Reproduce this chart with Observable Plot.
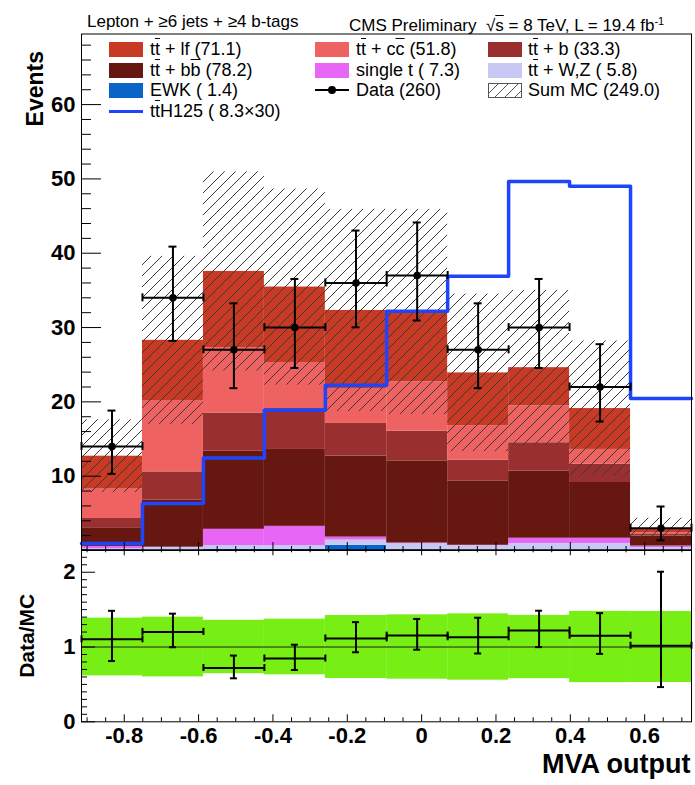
<!DOCTYPE html>
<html>
<head>
<meta charset="utf-8">
<title>MVA output, lepton + ≥6 jets + ≥4 b-tags</title>
<script src="https://cdn.jsdelivr.net/npm/d3@7"></script>
<script src="https://cdn.jsdelivr.net/npm/@observablehq/plot@0.6"></script>
<style>
  html, body { margin: 0; background: #fff; }
  #figure { position: relative; width: 695px; height: 785px; overflow: hidden;
            font-family: "Liberation Sans", Arial, Helvetica, sans-serif; color: #000; }
  #figure svg { position: absolute; left: 0; }
  .hdr { position: absolute; font-size: 17px; line-height: 17px; white-space: pre; }
  .ob { text-decoration: overline; text-decoration-thickness: 1px; }
  .leg { position: absolute; height: 20px; line-height: 20px; font-size: 18px; white-space: pre; }
  .sw { position: absolute; width: 34px; height: 15px; }
  .sw.hatch { box-sizing: border-box; border: 1px solid #555;
              background: repeating-linear-gradient(135deg, transparent 0 6px, #555 6px 7px); }
  .sw.line { height: 0; border-top: 3px solid #1f45fc; }
  .sw.data { height: 0; border-top: 2px solid #000; }
  .sw.data::after { content: ""; position: absolute; left: 13px; top: -5px; width: 8px; height: 8px;
                    border-radius: 50%; background: #000; }
</style>
</head>
<body>
<div id="figure"></div>
<script>
// ---- histogram binning (MVA output) ----
const binEdges = [-0.915, -0.751, -0.587, -0.423, -0.259, -0.094, 0.070, 0.234, 0.398, 0.562, 0.726];

// ---- simulated processes, stacked bottom to top ----
const processes = ["EWK", "ttV", "singleTop", "ttbb", "ttb", "ttcc", "ttlf"];
const processColors = ["#0a64c8", "#c8c8f5", "#e866f5", "#661810", "#99302f", "#ee6262", "#c93a25"];

const ewk       = [0.10, 0.05, 0.15, 0.15, 0.70, 0.10, 0.05, 0.05, 0.05, 0.00];
const ttV       = [0.15, 0.35, 0.50, 0.50, 0.70, 0.80, 0.60, 0.90, 0.90, 0.40];
const singleTop = [0.30, 0.05, 2.20, 2.60, 0.40, 0.10, 0.05, 0.70, 0.70, 0.20];
const ttbb      = [2.51, 6.32, 10.51, 10.35, 10.90, 11.06, 8.67, 9.05, 7.50, 1.35];
const ttb       = [1.25, 3.81, 5.14, 5.50, 4.40, 4.00, 2.78, 3.80, 2.45, 0.20];
const ttcc      = [4.03, 9.60, 8.80, 6.20, 4.70, 6.64, 4.65, 4.95, 2.00, 0.20];
const ttlf      = [4.35, 8.10, 10.25, 10.15, 10.50, 9.40, 7.10, 5.15, 5.50, 0.60];

// total MC uncertainty per bin (absolute, events)
const mcErr = [4.9, 11.3, 13.4, 13.2, 13.6, 13.8, 10.6, 10.4, 9.1, 1.4];

// ttH (mH = 125 GeV) signal, scaled by 30
const tthScaled = [0.95, 6.33, 12.46, 18.87, 22.23, 32.18, 36.90, 49.65, 49.00, 20.44];

// observed data with asymmetric (Poisson) intervals
const dataCounts = [14, 34, 27, 30, 36, 37, 27, 30, 22, 3];
const dataLow    = [10.31, 28.20, 21.84, 24.56, 30.03, 30.95, 21.84, 24.56, 17.35, 1.37];
const dataHigh   = [18.83, 40.89, 33.26, 36.54, 43.05, 44.14, 33.26, 36.54, 27.76, 5.92];

// axis tick labels
const xTickLabels = [-0.8, -0.6, -0.4, -0.2, 0, 0.2, 0.4, 0.6];
const yTickLabels = [10, 20, 30, 40, 50, 60];
const ratioTickLabels = [0, 1, 2];
const unityRatio = 1;

// legend text
const legendLabels = {
  ttlf: 't<span class="ob">t</span> + lf (71.1)',
  ttcc: 't<span class="ob">t</span> + c<span class="ob">c</span> (51.8)',
  ttb: 't<span class="ob">t</span> + b (33.3)',
  ttbb: 't<span class="ob">t</span> + b<span class="ob">b</span> (78.2)',
  singleTop: 'single t ( 7.3)',
  ttV: 't<span class="ob">t</span> + W,Z ( 5.8)',
  EWK: 'EWK ( 1.4)',
  data: 'Data (260)',
  sumMC: 'Sum MC (249.0)',
  ttH: 't<span class="ob">t</span>H125 ( 8.3×30)'
};
const legendRows = [["ttlf", "ttcc", "ttb"], ["ttbb", "singleTop", "ttV"], ["EWK", "data", "sumMC"], ["ttH"]];

// ---------------------------------------------------------------
const FONT = '"Liberation Sans", Arial, Helvetica, sans-serif';
const W = 695;
const frameLeft = 81, frameRight = 691;
const mainTop = 33.5, mainBottom = 550, mainHeight = 560;
const ratioSvgTop = 540, ratioHeight = 245, ratioTop = 9.3, ratioBottom = 181.3;
const xDomain = [binEdges[0], binEdges[binEdges.length - 1]];
const plotW = frameRight - frameLeft;
const mainPlotH = mainBottom - mainTop;
const ratioPlotH = ratioBottom - ratioTop;

const series = {EWK: ewk, ttV, singleTop, ttbb, ttb, ttcc, ttlf};
const nBins = dataCounts.length;
const totals = d3.range(nBins).map(i => d3.sum(processes, p => series[p][i]));

const stackRows = processes.flatMap(p => series[p].map((v, i) => ({
  proc: p, x1: binEdges[i], x2: binEdges[i + 1], v
})));

const bins = d3.range(nBins).map(i => ({
  x1: binEdges[i], x2: binEdges[i + 1], xc: (binEdges[i] + binEdges[i + 1]) / 2,
  n: dataCounts[i], lo: dataLow[i], hi: dataHigh[i], mc: totals[i], err: mcErr[i]
}));

const tthSteps = binEdges.map((e, i) => ({x: e, y: tthScaled[Math.min(i, nBins - 1)]}));

const round = v => Math.round(v * 1000) / 1000;
const xMinor = d3.range(-0.9, 0.72, 0.05).map(round).filter(v => !xTickLabels.includes(v));
const yMinor = d3.range(2, 69, 2).filter(v => v % 10 !== 0);
const ratioMinor = d3.range(0.1, 2.31, 0.1).map(round).filter(v => !ratioTickLabels.includes(v));

// error-bar crosses shared by both panels
function crosses(rows, {y, lo, hi, cap = 4}) {
  return [
    Plot.ruleY(rows, {y, x1: "x1", x2: "x2", stroke: "#000", strokeWidth: 2}),
    Plot.ruleX(rows, {x: "x1", y1: y, y2: y, insetTop: -cap, insetBottom: -cap, strokeWidth: 2}),
    Plot.ruleX(rows, {x: "x2", y1: y, y2: y, insetTop: -cap, insetBottom: -cap, strokeWidth: 2}),
    Plot.ruleX(rows, {x: "xc", y1: lo, y2: hi, stroke: "#000", strokeWidth: 2}),
    Plot.ruleY(rows, {y: hi, x1: "xc", x2: "xc", insetLeft: -cap, insetRight: -cap, strokeWidth: 2}),
    Plot.ruleY(rows, {y: lo, x1: "xc", x2: "xc", insetLeft: -cap, insetRight: -cap, strokeWidth: 2})
  ];
}

// ---------------- upper panel: event yields ----------------
const main = Plot.plot({
  width: W, height: mainHeight,
  marginLeft: frameLeft, marginRight: W - frameRight, marginTop: mainTop, marginBottom: mainHeight - mainBottom,
  x: {domain: xDomain, axis: null},
  y: {domain: [0, 69.5], axis: null},
  color: {domain: processes, range: processColors},
  style: {background: "transparent", overflow: "visible", fontFamily: FONT},
  marks: [
    Plot.rectY(stackRows, {x1: "x1", x2: "x2", y: "v", fill: "proc", z: "proc", order: processes}),
    Plot.rect(bins, {x1: "x1", x2: "x2", y1: d => d.mc - d.err, y2: d => d.mc + d.err, fill: "url(#mcHatch)"}),
    Plot.line(tthSteps, {x: "x", y: "y", curve: "step-after", stroke: "#1f45fc", strokeWidth: 3.5}),
    ...crosses(bins, {y: "n", lo: "lo", hi: "hi", cap: 4}),
    Plot.dot(bins, {x: "xc", y: "n", r: 3.8, fill: "#000", stroke: null}),
    // inward ticks
    Plot.tickY(yTickLabels, {y: d => d, insetRight: plotW - 20, stroke: "#000"}),
    Plot.tickY(yMinor, {y: d => d, insetRight: plotW - 10, stroke: "#000"}),
    Plot.tickX(xTickLabels, {x: d => d, insetTop: mainPlotH - 8, stroke: "#000"}),
    Plot.tickX(xMinor, {x: d => d, insetTop: mainPlotH - 4, stroke: "#000"}),
    Plot.frame({stroke: "#000", strokeWidth: 1}),
    Plot.axisY(yTickLabels, {tickSize: 0, tickPadding: 6, fontSize: 22, fontWeight: "bold",
                             tickFormat: d => String(d), label: null}),
    Plot.text(["Events"], {frameAnchor: "top-left", rotate: -90, textAnchor: "end",
                           dx: -55, dy: 17, fontSize: 23, fontWeight: "bold"})
  ]
});
d3.select(main).insert("defs", ":first-child").html(
  '<pattern id="mcHatch" patternUnits="userSpaceOnUse" width="11" height="11">' +
  '<path d="M0,11 L11,0 M-2,2 L2,-2 M9,13 L13,9" stroke="#3a3a3a" stroke-width="1" fill="none"/></pattern>'
);
main.style.top = "0px";

// ---------------- lower panel: data / MC ----------------
const ratioRows = bins.map(b => ({
  ...b, r: b.n / b.mc, rlo: b.lo / b.mc, rhi: b.hi / b.mc,
  blo: 1 - b.err / b.mc, bhi: 1 + b.err / b.mc
}));

const ratio = Plot.plot({
  width: W, height: ratioHeight,
  marginLeft: frameLeft, marginRight: W - frameRight, marginTop: ratioTop, marginBottom: ratioHeight - ratioBottom,
  x: {domain: xDomain, axis: null},
  y: {domain: [0, 2.3], axis: null},
  style: {background: "transparent", overflow: "visible", fontFamily: FONT},
  marks: [
    Plot.rect(ratioRows, {x1: "x1", x2: "x2", y1: "blo", y2: "bhi", fill: "#77ee14"}),
    Plot.ruleY([unityRatio], {stroke: "#222", strokeWidth: 1}),
    ...crosses(ratioRows, {y: "r", lo: "rlo", hi: "rhi", cap: 3.5}),
    Plot.tickY(ratioTickLabels, {y: d => d, insetRight: plotW - 14, stroke: "#000"}),
    Plot.tickY(ratioMinor, {y: d => d, insetRight: plotW - 6, stroke: "#000"}),
    Plot.tickX(xTickLabels, {x: d => d, insetTop: ratioPlotH - 7, stroke: "#000"}),
    Plot.tickX(xMinor, {x: d => d, insetTop: ratioPlotH - 4, stroke: "#000"}),
    Plot.tickX(xTickLabels, {x: d => d, insetBottom: ratioPlotH - 6, stroke: "#000"}),
    Plot.tickX(xMinor, {x: d => d, insetBottom: ratioPlotH - 3, stroke: "#000"}),
    Plot.frame({stroke: "#000", strokeWidth: 1}),
    Plot.axisY(ratioTickLabels, {tickSize: 0, tickPadding: 6, fontSize: 22, fontWeight: "bold",
                                 tickFormat: d => String(d), label: null}),
    Plot.axisX(xTickLabels, {tickSize: 0, tickPadding: 6, fontSize: 22, fontWeight: "bold",
                             tickFormat: d => String(d), label: null}),
    Plot.text(["Data/MC"], {frameAnchor: "left", rotate: -90, textAnchor: "middle",
                            dx: -54, fontSize: 21, fontWeight: "bold"}),
    Plot.text(["MVA output"], {frameAnchor: "bottom-right", textAnchor: "end",
                               dx: -1, dy: 51, fontSize: 27, fontWeight: "bold"})
  ]
});
ratio.style.top = ratioSvgTop + "px";

const fig = document.getElementById("figure");
fig.appendChild(main);
fig.appendChild(ratio);

// ---------------- header ----------------
const hdrLeft = document.createElement("div");
hdrLeft.className = "hdr";
hdrLeft.style.left = "87px"; hdrLeft.style.top = "13px";
hdrLeft.textContent = "Lepton + ≥6 jets + ≥4 b-tags";
fig.appendChild(hdrLeft);

const hdrRight = document.createElement("div");
hdrRight.className = "hdr";
hdrRight.style.left = "349px"; hdrRight.style.top = "13px";
hdrRight.innerHTML = 'CMS Preliminary  √<span class="ob">s</span> = 8 TeV, L = 19.4 fb<sup style="font-size:11px;vertical-align:6px">-1</sup>';
fig.appendChild(hdrRight);

// ---------------- legend ----------------
const colSwatchX = [109, 315, 488];
const colTextX = [150, 356, 528];
const rowCenterY = [49, 70, 90, 111];
const swatchKind = {data: "data", sumMC: "hatch", ttH: "line"};

legendRows.forEach((row, r) => row.forEach((key, c) => {
  const sw = document.createElement("div");
  const kind = swatchKind[key];
  sw.className = "sw" + (kind ? " " + kind : "");
  sw.style.left = colSwatchX[c] + "px";
  if (kind === "line") sw.style.top = (rowCenterY[r] - 1.5) + "px";
  else if (kind === "data") sw.style.top = (rowCenterY[r] - 1) + "px";
  else {
    sw.style.top = (rowCenterY[r] - 7.5) + "px";
    if (!kind) sw.style.background = processColors[processes.indexOf(key)];
  }
  fig.appendChild(sw);

  const lab = document.createElement("div");
  lab.className = "leg";
  lab.style.left = colTextX[c] + "px";
  lab.style.top = (rowCenterY[r] - 10) + "px";
  lab.innerHTML = legendLabels[key];
  fig.appendChild(lab);
}));
</script>
</body>
</html>
